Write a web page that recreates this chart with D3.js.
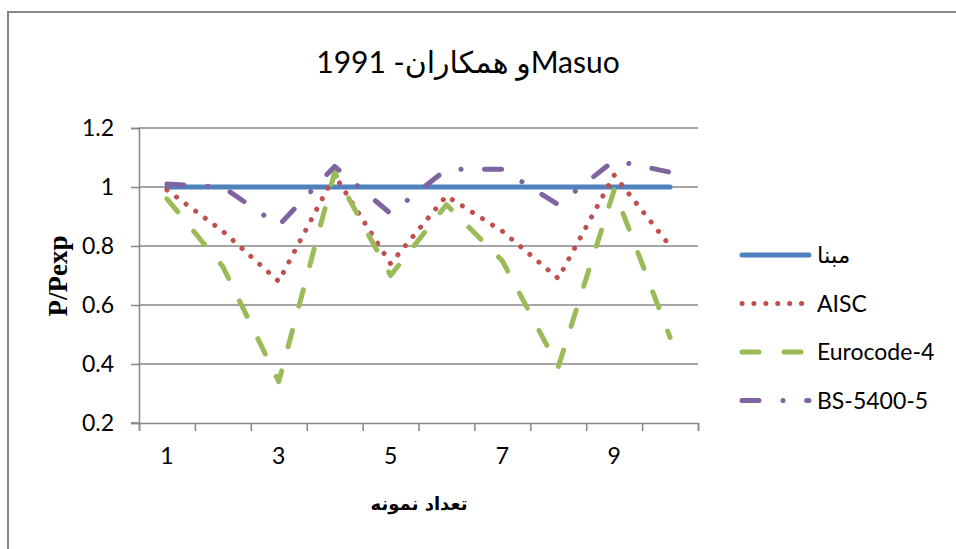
<!DOCTYPE html>
<html lang="fa">
<head>
<meta charset="UTF-8"/>
<title>Masuo 1991</title>
<script src="https://d3js.org/d3.v7.min.js"></script>
<style>
	body { margin: 0; background: #fff; }
	svg { display: block; }
</style>
</head>
<body>
<script>
	// samples 1..10
	var categories = [1, 2, 3, 4, 5, 6, 7, 8, 9, 10];
	var seriesNames = ["مبنا", "AISC", "Eurocode-4", "BS-5400-5"];
	var mabna     = [1, 1, 1, 1, 1, 1, 1, 1, 1, 1];
	var aisc      = [0.99, 0.85, 0.68, 1.04, 0.74, 0.97, 0.85, 0.69, 1.04, 0.80];
	var eurocode4 = [0.96, 0.73, 0.34, 1.05, 0.70, 0.94, 0.75, 0.39, 0.99, 0.49];
	var bs5400    = [1.01, 1.00, 0.87, 1.07, 0.91, 1.06, 1.06, 0.94, 1.09, 1.05];
	var yTicks = [0.2, 0.4, 0.6, 0.8, 1, 1.2];
	var titleText = "Masuoو همکاران- 1991";
	var xTitle = "تعداد نمونه";
	var yTitle = "P/Pexp";

	var w = 956, h = 549;
	var plotLeft = 139, plotRight = 698, plotTop = 128, plotBottom = 423;
	var grey = "#878787";
	var font = "Lato, 'DejaVu Sans', sans-serif";

	var svg = d3.select("body").append("svg").attr("width", w).attr("height", h);

	// chart border (runs off the right/bottom of the picture)
	svg.append("rect")
		.attr("x", 8).attr("y", 12).attr("width", 1000).attr("height", 600)
		.attr("fill", "#fff").attr("stroke", grey).attr("stroke-width", 2);

	var xScale = d3.scaleBand().domain(categories).range([plotLeft, plotRight]).padding(0);
	var xEdge = d3.scaleLinear().domain([0, categories.length]).range([plotLeft, plotRight]);
	var yScale = d3.scaleLinear().domain([0.2, 1.2]).range([plotBottom, plotTop]);
	var cx = function(d) { return xScale(d) + xScale.bandwidth() / 2; };

	// gridlines
	svg.append("g").selectAll("line").data(yTicks.slice(1)).enter().append("line")
		.attr("x1", plotLeft).attr("x2", plotRight)
		.attr("y1", function(d) { return yScale(d); })
		.attr("y2", function(d) { return yScale(d); })
		.attr("stroke", grey).attr("stroke-width", 1.5);

	// y axis
	var yAxis = svg.append("g").attr("transform", "translate(" + plotLeft + ",0)")
		.call(d3.axisLeft(yScale).tickValues(yTicks).tickSize(8).tickPadding(17)
			.tickFormat(function(d) { return String(+d.toFixed(1)); }));
	yAxis.select(".domain").attr("stroke", grey).attr("stroke-width", 1.5);
	yAxis.selectAll(".tick line").attr("stroke", grey).attr("stroke-width", 1.5);
	yAxis.selectAll("text").attr("font-family", font).attr("font-size", "23px")
		.attr("fill", "#000");

	// x axis
	var xAxis = svg.append("g").attr("transform", "translate(0," + plotBottom + ")")
		.call(d3.axisBottom(xEdge).tickValues(d3.range(0, categories.length + 1))
			.tickSize(8).tickFormat(""));
	xAxis.select(".domain").attr("stroke", grey).attr("stroke-width", 1.5);
	xAxis.selectAll(".tick line").attr("stroke", grey).attr("stroke-width", 1.5);

	svg.append("line").attr("x1", plotLeft - 8).attr("x2", plotLeft)
		.attr("y1", plotBottom).attr("y2", plotBottom)
		.attr("stroke", grey).attr("stroke-width", 1.5);

	svg.append("g").selectAll("text")
		.data(categories.filter(function(d, i) { return i % 2 == 0; }))
		.enter().append("text")
		.text(function(d) { return d; })
		.attr("x", cx).attr("y", 464)
		.attr("text-anchor", "middle")
		.attr("font-family", font).attr("font-size", "23px");

	// titles
	svg.append("text").text(titleText)
		.attr("x", 468).attr("y", 73)
		.attr("text-anchor", "middle").attr("direction", "rtl")
		.attr("font-family", font).attr("font-size", "30px");

	svg.append("text").text(xTitle)
		.attr("x", 419).attr("y", 510)
		.attr("text-anchor", "middle").attr("direction", "rtl")
		.attr("font-family", "'DejaVu Sans', sans-serif").attr("font-weight", "bold")
		.attr("font-size", "18px");

	svg.append("text").text(yTitle)
		.attr("transform", "translate(67,276) rotate(-90)")
		.attr("text-anchor", "middle")
		.attr("font-family", "'Liberation Serif', serif").attr("font-weight", "bold")
		.attr("font-size", "27px");

	// series
	var series = [
		{ name: seriesNames[0], values: mabna,     color: "#4F81BD", dash: null },
		{ name: seriesNames[1], values: aisc,      color: "#C0504D", dash: "0.1 11.8" },
		{ name: seriesNames[2], values: eurocode4, color: "#9BBB59", dash: "17 25" },
		{ name: seriesNames[3], values: bs5400,    color: "#8064A2", dash: "17 24 0.1 23.5" }
	];

	var line = d3.line()
		.x(function(d) { return cx(d[0]); })
		.y(function(d) { return yScale(d[1]); });

	svg.append("g").selectAll("path").data(series).enter().append("path")
		.attr("d", function(s) { return line(d3.zip(categories, s.values)); })
		.attr("fill", "none")
		.attr("stroke", function(s) { return s.color; })
		.attr("stroke-width", 5)
		.attr("stroke-linecap", "round")
		.attr("stroke-linejoin", "round")
		.attr("stroke-dasharray", function(s) { return s.dash; });

	// legend
	var legend = svg.append("g").selectAll("g").data(series).enter().append("g")
		.attr("transform", function(s, i) { return "translate(0," + (255 + i * 48.5) + ")"; });
	legend.append("line")
		.attr("x1", 742).attr("x2", 809).attr("y1", 0).attr("y2", 0)
		.attr("stroke", function(s) { return s.color; })
		.attr("stroke-width", 5)
		.attr("stroke-linecap", "round")
		.attr("stroke-dasharray", function(s) { return s.dash; });
	legend.append("text")
		.text(function(s) { return s.name; })
		.attr("x", 817).attr("y", 0).attr("dy", "0.36em")
		.attr("font-family", font).attr("font-size", "23px");
</script>
</body>
</html>
